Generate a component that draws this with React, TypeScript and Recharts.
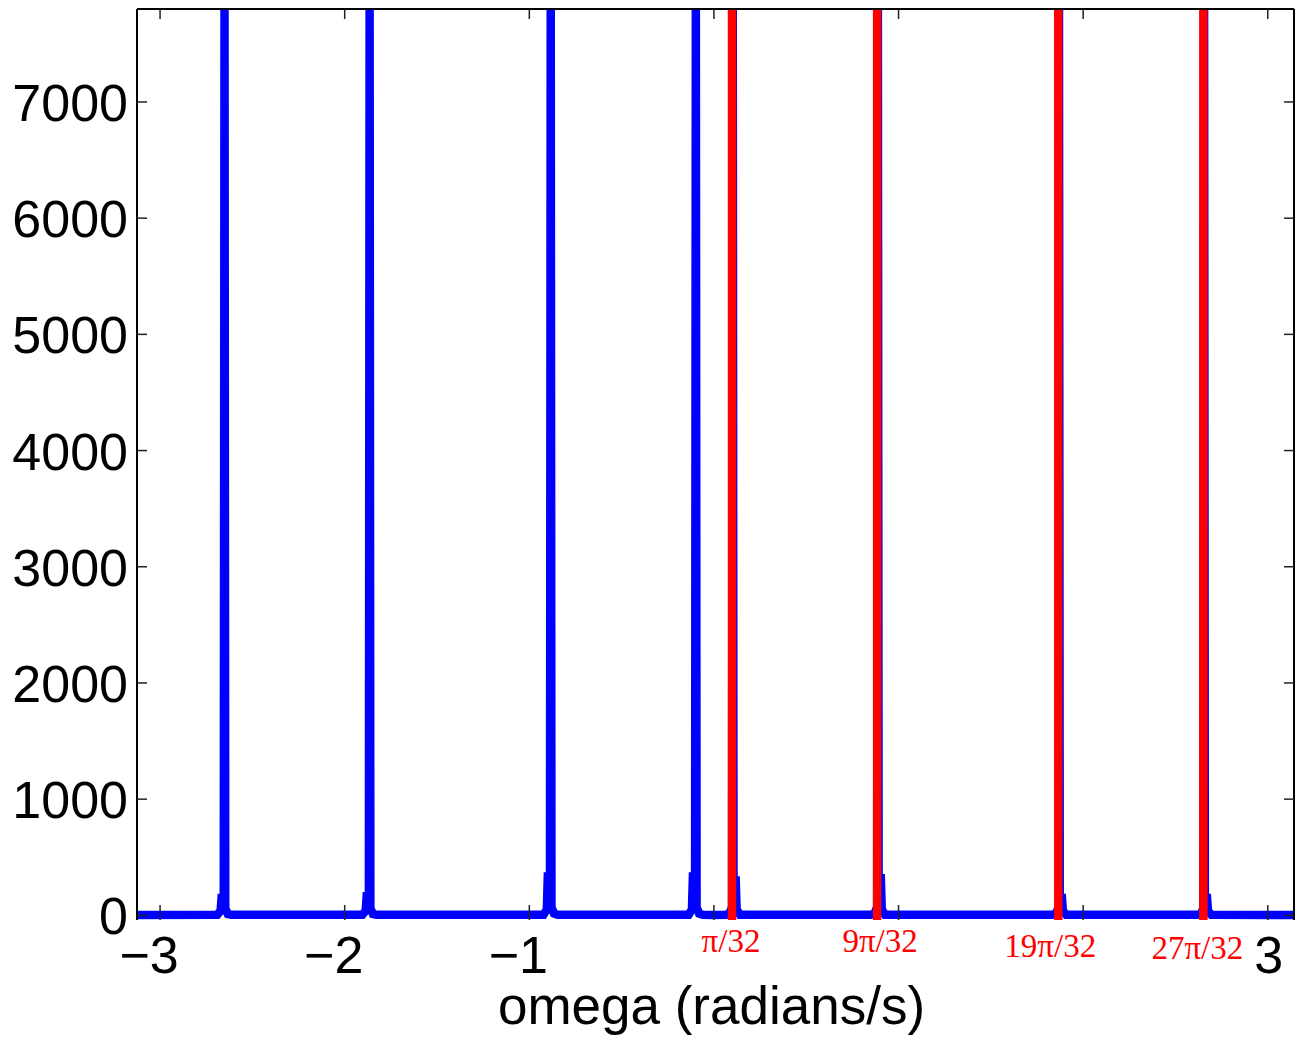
import React from 'react';
import {
  LineChart,
  Line,
  XAxis,
  YAxis,
  ReferenceLine
} from 'recharts';

// spectrum samples (peaks clipped at the top of the axes)
const omega = [
  -3.125,
  -2.690, -2.672, -2.667, -2.655, -2.651, -2.647, -2.633, -2.614,
  -1.904, -1.886, -1.881, -1.869, -1.865, -1.861, -1.847, -1.828,
  -0.923, -0.905, -0.900, -0.888, -0.884, -0.880, -0.866, -0.847,
  -0.137, -0.119, -0.114, -0.102, -0.098, -0.094, -0.080, -0.061,
  0.0,
  0.065, 0.084, 0.098, 0.102, 0.106, 0.118, 0.123, 0.141,
  0.851, 0.870, 0.884, 0.888, 0.892, 0.904, 0.909, 0.927,
  1.832, 1.851, 1.865, 1.869, 1.873, 1.885, 1.890, 1.908,
  2.618, 2.637, 2.651, 2.655, 2.659, 2.671, 2.676, 2.694,
  3.142
];

const magnitude = [
  3,
  6, 40, 150, 150, 7800, 60, 12, 5,
  6, 40, 165, 165, 7800, 60, 12, 5,
  6, 50, 335, 335, 7800, 70, 15, 5,
  6, 50, 335, 335, 7800, 70, 15, 5,
  4,
  5, 15, 70, 7800, 300, 300, 50, 6,
  5, 15, 70, 7800, 320, 320, 50, 6,
  5, 12, 60, 7800, 150, 150, 40, 6,
  5, 12, 60, 7800, 150, 150, 40, 6,
  3
];

const markerOmega = [0.098, 0.884, 1.865, 2.651];
const markerLabels = ['π/32', '9π/32', '19π/32', '27π/32'];

const xTicks = [-3, -2, -1, 0, 1, 2, 3];
const hiddenXTicks = [0, 1, 2];
const yTicks = [0, 1000, 2000, 3000, 4000, 5000, 6000, 7000];

const data = omega.map((w, i) => ({ omega: w, magnitude: magnitude[i] }));

const X_DOMAIN: [number, number] = [-3.125, 3.142];
const Y_DOMAIN: [number, number] = [-40, 7800];

const SANS = '"Liberation Sans", Arial, Helvetica, sans-serif';
const SERIF = '"Liberation Serif", "Times New Roman", Times, serif';
const TICK_LEN = 10;
const TICK_COLOR = '#222';
// nudges for the red marker labels (text placement only)
const LABEL_DX = [-1, 3, -8, -6];
const LABEL_DY = [32, 32, 37, 39];

const BottomTick = (props: any) => {
  const { x, y, payload } = props;
  const v = payload.value as number;
  const show = !hiddenXTicks.includes(v);
  const text = v < 0 ? `\u2212${Math.abs(v)}` : `${v}`;
  return (
    <g>
      <line x1={x} y1={y} x2={x} y2={y - TICK_LEN - 5} stroke={TICK_COLOR} strokeWidth={1.5} />
      {show && (
        <text
          x={x + (v < 0 ? -11 : 1)}
          y={y + 53}
          textAnchor="middle"
          fontSize={52}
          fontFamily={SANS}
          fill="#000"
        >
          {text}
        </text>
      )}
    </g>
  );
};

const TopTick = (props: any) => {
  const { x, y } = props;
  return <line x1={x} y1={y} x2={x} y2={y + TICK_LEN} stroke={TICK_COLOR} strokeWidth={1.5} />;
};

const LeftTick = (props: any) => {
  const { x, y, payload } = props;
  return (
    <g>
      <line x1={x} y1={y} x2={x + TICK_LEN} y2={y} stroke={TICK_COLOR} strokeWidth={1.5} />
      <text
        x={x - 9}
        y={y + 19}
        textAnchor="end"
        fontSize={52}
        fontFamily={SANS}
        fill="#000"
      >
        {payload.value}
      </text>
    </g>
  );
};

const RightTick = (props: any) => {
  const { x, y } = props;
  return <line x1={x} y1={y} x2={x - TICK_LEN} y2={y} stroke={TICK_COLOR} strokeWidth={1.5} />;
};

const MarkerLabel = (props: any) => {
  const { viewBox, text, dx, dy } = props;
  if (!viewBox) return null;
  return (
    <text
      x={viewBox.x + dx}
      y={viewBox.y + viewBox.height + dy}
      textAnchor="middle"
      fontSize={33}
      fontFamily={SERIF}
      fill="#ff0000"
    >
      {text}
    </text>
  );
};

export default function App() {
  return (
    <div style={{ position: 'absolute', left: 0, top: 0, background: '#fff' }}>
      <LineChart
        width={1303}
        height={1040}
        data={data}
        margin={{ top: 8, right: 8, bottom: 0, left: 0 }}
      >
        <XAxis
          dataKey="omega"
          type="number"
          domain={X_DOMAIN}
          ticks={xTicks}
          interval={0}
          height={120}
          tickSize={0}
          tickMargin={0}
          tickLine={false}
          axisLine={false}
          tick={<BottomTick />}
          label={{
            value: 'omega (radians/s)',
            position: 'insideBottom',
            offset: 16,
            dx: -4,
            style: { fontSize: 53, fontFamily: SANS, fill: '#000' }
          }}
        />
        <XAxis
          xAxisId="top"
          orientation="top"
          dataKey="omega"
          type="number"
          domain={X_DOMAIN}
          allowDataOverflow
          ticks={xTicks}
          interval={0}
          height={1}
          tickSize={0}
          tickMargin={0}
          tickLine={false}
          axisLine={{ stroke: '#000', strokeWidth: 2 }}
          tick={<TopTick />}
        />
        <YAxis
          type="number"
          domain={Y_DOMAIN}
          ticks={yTicks}
          interval={0}
          width={137}
          tickSize={0}
          tickMargin={0}
          tickLine={false}
          axisLine={{ stroke: '#000', strokeWidth: 2 }}
          tick={<LeftTick />}
        />
        <YAxis
          yAxisId="right"
          orientation="right"
          type="number"
          domain={Y_DOMAIN}
          allowDataOverflow
          ticks={yTicks}
          interval={0}
          width={1}
          tickSize={0}
          tickMargin={0}
          tickLine={false}
          axisLine={{ stroke: '#000', strokeWidth: 2 }}
          tick={<RightTick />}
        />
        <Line
          type="linear"
          dataKey="magnitude"
          stroke="#0000ff"
          strokeWidth={8.5}
          dot={false}
          activeDot={false}
          isAnimationActive={false}
        />
        {markerOmega.map((w, i) => (
          <ReferenceLine
            key={w}
            x={w}
            stroke="#ff0000"
            strokeWidth={8.5}
            label={(p: any) => (
              <MarkerLabel {...p} text={markerLabels[i]} dx={LABEL_DX[i]} dy={LABEL_DY[i]} />
            )}
          />
        ))}
      </LineChart>
    </div>
  );
}
